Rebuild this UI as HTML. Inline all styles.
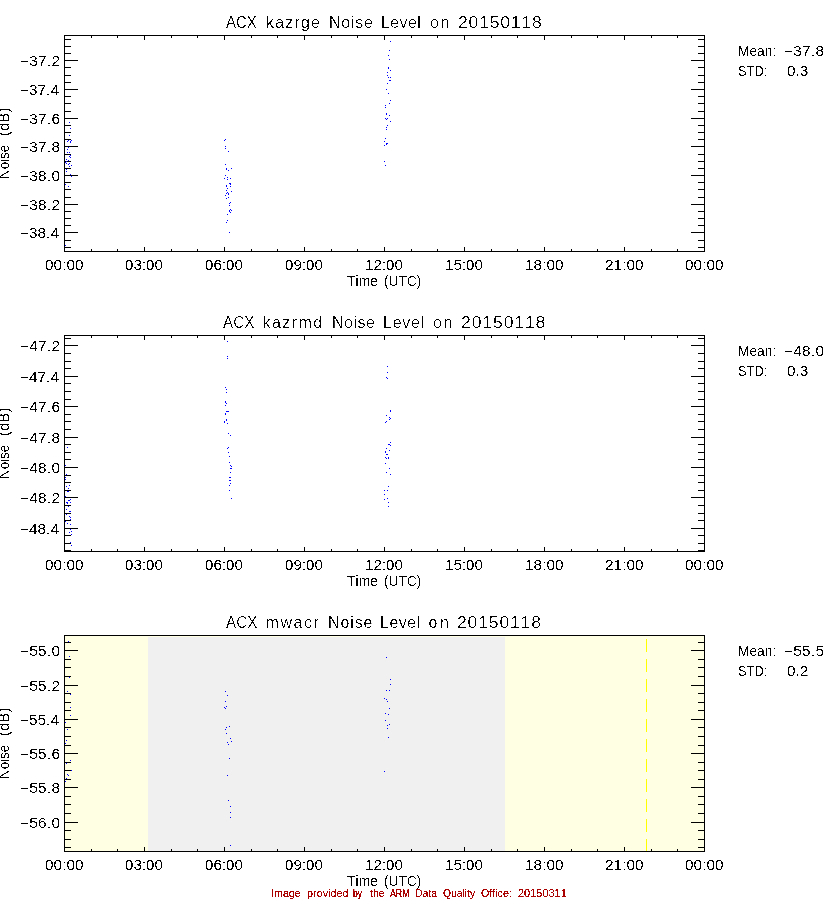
<!DOCTYPE html>
<html><head><meta charset="utf-8"><title>ACX Noise Level 20150118</title>
<style>
html,body{margin:0;padding:0;background:#fff;}
body{width:840px;height:900px;position:relative;overflow:hidden;font-family:"Liberation Sans",sans-serif;color:#000;}
svg{position:absolute;left:0;top:0;}
.g{position:absolute;left:0;top:0;width:840px;height:900px;}
.t{position:absolute;white-space:pre;line-height:1;height:0;overflow:visible;font-kerning:none;transform-origin:0 0;}
</style></head><body>
<svg width="840" height="900" viewBox="0 0 840 900" shape-rendering="crispEdges">
<defs><filter id="crisp14" x="0" y="0" width="840" height="900" filterUnits="userSpaceOnUse" color-interpolation-filters="sRGB"><feComponentTransfer><feFuncA type="linear" slope="40" intercept="-20.3"/></feComponentTransfer></filter><filter id="crisp16" x="0" y="0" width="840" height="900" filterUnits="userSpaceOnUse" color-interpolation-filters="sRGB"><feComponentTransfer><feFuncA type="linear" slope="40" intercept="-24.3"/></feComponentTransfer></filter><filter id="crisp11" x="0" y="0" width="840" height="900" filterUnits="userSpaceOnUse" color-interpolation-filters="sRGB"><feComponentTransfer><feFuncA type="linear" slope="40" intercept="-15.5"/></feComponentTransfer></filter></defs>
<rect x="64" y="35" width="641" height="1" fill="#000"/>
<rect x="64" y="251" width="641" height="1" fill="#000"/>
<rect x="64" y="35" width="1" height="217" fill="#000"/>
<rect x="704" y="35" width="1" height="217" fill="#000"/>
<rect x="64" y="247" width="1" height="4" fill="#000"/>
<rect x="64" y="36" width="1" height="4" fill="#000"/>
<rect x="91" y="249" width="1" height="2" fill="#000"/>
<rect x="91" y="36" width="1" height="2" fill="#000"/>
<rect x="117" y="249" width="1" height="2" fill="#000"/>
<rect x="117" y="36" width="1" height="2" fill="#000"/>
<rect x="144" y="247" width="1" height="4" fill="#000"/>
<rect x="144" y="36" width="1" height="4" fill="#000"/>
<rect x="171" y="249" width="1" height="2" fill="#000"/>
<rect x="171" y="36" width="1" height="2" fill="#000"/>
<rect x="197" y="249" width="1" height="2" fill="#000"/>
<rect x="197" y="36" width="1" height="2" fill="#000"/>
<rect x="224" y="247" width="1" height="4" fill="#000"/>
<rect x="224" y="36" width="1" height="4" fill="#000"/>
<rect x="251" y="249" width="1" height="2" fill="#000"/>
<rect x="251" y="36" width="1" height="2" fill="#000"/>
<rect x="277" y="249" width="1" height="2" fill="#000"/>
<rect x="277" y="36" width="1" height="2" fill="#000"/>
<rect x="304" y="247" width="1" height="4" fill="#000"/>
<rect x="304" y="36" width="1" height="4" fill="#000"/>
<rect x="331" y="249" width="1" height="2" fill="#000"/>
<rect x="331" y="36" width="1" height="2" fill="#000"/>
<rect x="357" y="249" width="1" height="2" fill="#000"/>
<rect x="357" y="36" width="1" height="2" fill="#000"/>
<rect x="384" y="247" width="1" height="4" fill="#000"/>
<rect x="384" y="36" width="1" height="4" fill="#000"/>
<rect x="411" y="249" width="1" height="2" fill="#000"/>
<rect x="411" y="36" width="1" height="2" fill="#000"/>
<rect x="437" y="249" width="1" height="2" fill="#000"/>
<rect x="437" y="36" width="1" height="2" fill="#000"/>
<rect x="464" y="247" width="1" height="4" fill="#000"/>
<rect x="464" y="36" width="1" height="4" fill="#000"/>
<rect x="491" y="249" width="1" height="2" fill="#000"/>
<rect x="491" y="36" width="1" height="2" fill="#000"/>
<rect x="517" y="249" width="1" height="2" fill="#000"/>
<rect x="517" y="36" width="1" height="2" fill="#000"/>
<rect x="544" y="247" width="1" height="4" fill="#000"/>
<rect x="544" y="36" width="1" height="4" fill="#000"/>
<rect x="571" y="249" width="1" height="2" fill="#000"/>
<rect x="571" y="36" width="1" height="2" fill="#000"/>
<rect x="597" y="249" width="1" height="2" fill="#000"/>
<rect x="597" y="36" width="1" height="2" fill="#000"/>
<rect x="624" y="247" width="1" height="4" fill="#000"/>
<rect x="624" y="36" width="1" height="4" fill="#000"/>
<rect x="651" y="249" width="1" height="2" fill="#000"/>
<rect x="651" y="36" width="1" height="2" fill="#000"/>
<rect x="677" y="249" width="1" height="2" fill="#000"/>
<rect x="677" y="36" width="1" height="2" fill="#000"/>
<rect x="704" y="247" width="1" height="4" fill="#000"/>
<rect x="704" y="36" width="1" height="4" fill="#000"/>
<rect x="65" y="39" width="6" height="1" fill="#000"/>
<rect x="698" y="39" width="6" height="1" fill="#000"/>
<rect x="65" y="46" width="6" height="1" fill="#000"/>
<rect x="698" y="46" width="6" height="1" fill="#000"/>
<rect x="65" y="53" width="6" height="1" fill="#000"/>
<rect x="698" y="53" width="6" height="1" fill="#000"/>
<rect x="65" y="60" width="13" height="1" fill="#000"/>
<rect x="691" y="60" width="13" height="1" fill="#000"/>
<rect x="65" y="67" width="6" height="1" fill="#000"/>
<rect x="698" y="67" width="6" height="1" fill="#000"/>
<rect x="65" y="75" width="6" height="1" fill="#000"/>
<rect x="698" y="75" width="6" height="1" fill="#000"/>
<rect x="65" y="82" width="6" height="1" fill="#000"/>
<rect x="698" y="82" width="6" height="1" fill="#000"/>
<rect x="65" y="89" width="13" height="1" fill="#000"/>
<rect x="691" y="89" width="13" height="1" fill="#000"/>
<rect x="65" y="96" width="6" height="1" fill="#000"/>
<rect x="698" y="96" width="6" height="1" fill="#000"/>
<rect x="65" y="103" width="6" height="1" fill="#000"/>
<rect x="698" y="103" width="6" height="1" fill="#000"/>
<rect x="65" y="111" width="6" height="1" fill="#000"/>
<rect x="698" y="111" width="6" height="1" fill="#000"/>
<rect x="65" y="118" width="13" height="1" fill="#000"/>
<rect x="691" y="118" width="13" height="1" fill="#000"/>
<rect x="65" y="125" width="6" height="1" fill="#000"/>
<rect x="698" y="125" width="6" height="1" fill="#000"/>
<rect x="65" y="132" width="6" height="1" fill="#000"/>
<rect x="698" y="132" width="6" height="1" fill="#000"/>
<rect x="65" y="139" width="6" height="1" fill="#000"/>
<rect x="698" y="139" width="6" height="1" fill="#000"/>
<rect x="65" y="146" width="13" height="1" fill="#000"/>
<rect x="691" y="146" width="13" height="1" fill="#000"/>
<rect x="65" y="154" width="6" height="1" fill="#000"/>
<rect x="698" y="154" width="6" height="1" fill="#000"/>
<rect x="65" y="161" width="6" height="1" fill="#000"/>
<rect x="698" y="161" width="6" height="1" fill="#000"/>
<rect x="65" y="168" width="6" height="1" fill="#000"/>
<rect x="698" y="168" width="6" height="1" fill="#000"/>
<rect x="65" y="175" width="13" height="1" fill="#000"/>
<rect x="691" y="175" width="13" height="1" fill="#000"/>
<rect x="65" y="182" width="6" height="1" fill="#000"/>
<rect x="698" y="182" width="6" height="1" fill="#000"/>
<rect x="65" y="189" width="6" height="1" fill="#000"/>
<rect x="698" y="189" width="6" height="1" fill="#000"/>
<rect x="65" y="197" width="6" height="1" fill="#000"/>
<rect x="698" y="197" width="6" height="1" fill="#000"/>
<rect x="65" y="204" width="13" height="1" fill="#000"/>
<rect x="691" y="204" width="13" height="1" fill="#000"/>
<rect x="65" y="211" width="6" height="1" fill="#000"/>
<rect x="698" y="211" width="6" height="1" fill="#000"/>
<rect x="65" y="218" width="6" height="1" fill="#000"/>
<rect x="698" y="218" width="6" height="1" fill="#000"/>
<rect x="65" y="225" width="6" height="1" fill="#000"/>
<rect x="698" y="225" width="6" height="1" fill="#000"/>
<rect x="65" y="232" width="13" height="1" fill="#000"/>
<rect x="691" y="232" width="13" height="1" fill="#000"/>
<rect x="65" y="240" width="6" height="1" fill="#000"/>
<rect x="698" y="240" width="6" height="1" fill="#000"/>
<rect x="65" y="247" width="6" height="1" fill="#000"/>
<rect x="698" y="247" width="6" height="1" fill="#000"/>
<rect x="64" y="335" width="641" height="1" fill="#000"/>
<rect x="64" y="551" width="641" height="1" fill="#000"/>
<rect x="64" y="335" width="1" height="217" fill="#000"/>
<rect x="704" y="335" width="1" height="217" fill="#000"/>
<rect x="64" y="547" width="1" height="4" fill="#000"/>
<rect x="64" y="336" width="1" height="4" fill="#000"/>
<rect x="91" y="549" width="1" height="2" fill="#000"/>
<rect x="91" y="336" width="1" height="2" fill="#000"/>
<rect x="117" y="549" width="1" height="2" fill="#000"/>
<rect x="117" y="336" width="1" height="2" fill="#000"/>
<rect x="144" y="547" width="1" height="4" fill="#000"/>
<rect x="144" y="336" width="1" height="4" fill="#000"/>
<rect x="171" y="549" width="1" height="2" fill="#000"/>
<rect x="171" y="336" width="1" height="2" fill="#000"/>
<rect x="197" y="549" width="1" height="2" fill="#000"/>
<rect x="197" y="336" width="1" height="2" fill="#000"/>
<rect x="224" y="547" width="1" height="4" fill="#000"/>
<rect x="224" y="336" width="1" height="4" fill="#000"/>
<rect x="251" y="549" width="1" height="2" fill="#000"/>
<rect x="251" y="336" width="1" height="2" fill="#000"/>
<rect x="277" y="549" width="1" height="2" fill="#000"/>
<rect x="277" y="336" width="1" height="2" fill="#000"/>
<rect x="304" y="547" width="1" height="4" fill="#000"/>
<rect x="304" y="336" width="1" height="4" fill="#000"/>
<rect x="331" y="549" width="1" height="2" fill="#000"/>
<rect x="331" y="336" width="1" height="2" fill="#000"/>
<rect x="357" y="549" width="1" height="2" fill="#000"/>
<rect x="357" y="336" width="1" height="2" fill="#000"/>
<rect x="384" y="547" width="1" height="4" fill="#000"/>
<rect x="384" y="336" width="1" height="4" fill="#000"/>
<rect x="411" y="549" width="1" height="2" fill="#000"/>
<rect x="411" y="336" width="1" height="2" fill="#000"/>
<rect x="437" y="549" width="1" height="2" fill="#000"/>
<rect x="437" y="336" width="1" height="2" fill="#000"/>
<rect x="464" y="547" width="1" height="4" fill="#000"/>
<rect x="464" y="336" width="1" height="4" fill="#000"/>
<rect x="491" y="549" width="1" height="2" fill="#000"/>
<rect x="491" y="336" width="1" height="2" fill="#000"/>
<rect x="517" y="549" width="1" height="2" fill="#000"/>
<rect x="517" y="336" width="1" height="2" fill="#000"/>
<rect x="544" y="547" width="1" height="4" fill="#000"/>
<rect x="544" y="336" width="1" height="4" fill="#000"/>
<rect x="571" y="549" width="1" height="2" fill="#000"/>
<rect x="571" y="336" width="1" height="2" fill="#000"/>
<rect x="597" y="549" width="1" height="2" fill="#000"/>
<rect x="597" y="336" width="1" height="2" fill="#000"/>
<rect x="624" y="547" width="1" height="4" fill="#000"/>
<rect x="624" y="336" width="1" height="4" fill="#000"/>
<rect x="651" y="549" width="1" height="2" fill="#000"/>
<rect x="651" y="336" width="1" height="2" fill="#000"/>
<rect x="677" y="549" width="1" height="2" fill="#000"/>
<rect x="677" y="336" width="1" height="2" fill="#000"/>
<rect x="704" y="547" width="1" height="4" fill="#000"/>
<rect x="704" y="336" width="1" height="4" fill="#000"/>
<rect x="65" y="338" width="6" height="1" fill="#000"/>
<rect x="698" y="338" width="6" height="1" fill="#000"/>
<rect x="65" y="345" width="13" height="1" fill="#000"/>
<rect x="691" y="345" width="13" height="1" fill="#000"/>
<rect x="65" y="353" width="6" height="1" fill="#000"/>
<rect x="698" y="353" width="6" height="1" fill="#000"/>
<rect x="65" y="361" width="6" height="1" fill="#000"/>
<rect x="698" y="361" width="6" height="1" fill="#000"/>
<rect x="65" y="368" width="6" height="1" fill="#000"/>
<rect x="698" y="368" width="6" height="1" fill="#000"/>
<rect x="65" y="376" width="13" height="1" fill="#000"/>
<rect x="691" y="376" width="13" height="1" fill="#000"/>
<rect x="65" y="383" width="6" height="1" fill="#000"/>
<rect x="698" y="383" width="6" height="1" fill="#000"/>
<rect x="65" y="391" width="6" height="1" fill="#000"/>
<rect x="698" y="391" width="6" height="1" fill="#000"/>
<rect x="65" y="399" width="6" height="1" fill="#000"/>
<rect x="698" y="399" width="6" height="1" fill="#000"/>
<rect x="65" y="406" width="13" height="1" fill="#000"/>
<rect x="691" y="406" width="13" height="1" fill="#000"/>
<rect x="65" y="414" width="6" height="1" fill="#000"/>
<rect x="698" y="414" width="6" height="1" fill="#000"/>
<rect x="65" y="421" width="6" height="1" fill="#000"/>
<rect x="698" y="421" width="6" height="1" fill="#000"/>
<rect x="65" y="429" width="6" height="1" fill="#000"/>
<rect x="698" y="429" width="6" height="1" fill="#000"/>
<rect x="65" y="437" width="13" height="1" fill="#000"/>
<rect x="691" y="437" width="13" height="1" fill="#000"/>
<rect x="65" y="444" width="6" height="1" fill="#000"/>
<rect x="698" y="444" width="6" height="1" fill="#000"/>
<rect x="65" y="452" width="6" height="1" fill="#000"/>
<rect x="698" y="452" width="6" height="1" fill="#000"/>
<rect x="65" y="459" width="6" height="1" fill="#000"/>
<rect x="698" y="459" width="6" height="1" fill="#000"/>
<rect x="65" y="467" width="13" height="1" fill="#000"/>
<rect x="691" y="467" width="13" height="1" fill="#000"/>
<rect x="65" y="475" width="6" height="1" fill="#000"/>
<rect x="698" y="475" width="6" height="1" fill="#000"/>
<rect x="65" y="482" width="6" height="1" fill="#000"/>
<rect x="698" y="482" width="6" height="1" fill="#000"/>
<rect x="65" y="490" width="6" height="1" fill="#000"/>
<rect x="698" y="490" width="6" height="1" fill="#000"/>
<rect x="65" y="497" width="13" height="1" fill="#000"/>
<rect x="691" y="497" width="13" height="1" fill="#000"/>
<rect x="65" y="505" width="6" height="1" fill="#000"/>
<rect x="698" y="505" width="6" height="1" fill="#000"/>
<rect x="65" y="513" width="6" height="1" fill="#000"/>
<rect x="698" y="513" width="6" height="1" fill="#000"/>
<rect x="65" y="520" width="6" height="1" fill="#000"/>
<rect x="698" y="520" width="6" height="1" fill="#000"/>
<rect x="65" y="528" width="13" height="1" fill="#000"/>
<rect x="691" y="528" width="13" height="1" fill="#000"/>
<rect x="65" y="535" width="6" height="1" fill="#000"/>
<rect x="698" y="535" width="6" height="1" fill="#000"/>
<rect x="65" y="543" width="6" height="1" fill="#000"/>
<rect x="698" y="543" width="6" height="1" fill="#000"/>
<rect x="65" y="550" width="6" height="1" fill="#000"/>
<rect x="698" y="550" width="6" height="1" fill="#000"/>
<rect x="65" y="636" width="639" height="215" fill="#ffffe4"/>
<rect x="148" y="637" width="357" height="214" fill="#f0f0f0"/>
<rect x="646" y="839" width="1" height="12" fill="#ffff00"/>
<rect x="646" y="819" width="1" height="13" fill="#ffff00"/>
<rect x="646" y="799" width="1" height="13" fill="#ffff00"/>
<rect x="646" y="779" width="1" height="13" fill="#ffff00"/>
<rect x="646" y="759" width="1" height="13" fill="#ffff00"/>
<rect x="646" y="739" width="1" height="13" fill="#ffff00"/>
<rect x="646" y="719" width="1" height="13" fill="#ffff00"/>
<rect x="646" y="699" width="1" height="13" fill="#ffff00"/>
<rect x="646" y="679" width="1" height="13" fill="#ffff00"/>
<rect x="646" y="659" width="1" height="13" fill="#ffff00"/>
<rect x="646" y="639" width="1" height="13" fill="#ffff00"/>
<rect x="64" y="635" width="641" height="1" fill="#000"/>
<rect x="64" y="851" width="641" height="1" fill="#000"/>
<rect x="64" y="635" width="1" height="217" fill="#000"/>
<rect x="704" y="635" width="1" height="217" fill="#000"/>
<rect x="64" y="847" width="1" height="4" fill="#000"/>
<rect x="91" y="849" width="1" height="2" fill="#000"/>
<rect x="117" y="849" width="1" height="2" fill="#000"/>
<rect x="144" y="847" width="1" height="4" fill="#000"/>
<rect x="171" y="849" width="1" height="2" fill="#000"/>
<rect x="197" y="849" width="1" height="2" fill="#000"/>
<rect x="224" y="847" width="1" height="4" fill="#000"/>
<rect x="251" y="849" width="1" height="2" fill="#000"/>
<rect x="277" y="849" width="1" height="2" fill="#000"/>
<rect x="304" y="847" width="1" height="4" fill="#000"/>
<rect x="331" y="849" width="1" height="2" fill="#000"/>
<rect x="357" y="849" width="1" height="2" fill="#000"/>
<rect x="384" y="847" width="1" height="4" fill="#000"/>
<rect x="411" y="849" width="1" height="2" fill="#000"/>
<rect x="437" y="849" width="1" height="2" fill="#000"/>
<rect x="464" y="847" width="1" height="4" fill="#000"/>
<rect x="491" y="849" width="1" height="2" fill="#000"/>
<rect x="517" y="849" width="1" height="2" fill="#000"/>
<rect x="544" y="847" width="1" height="4" fill="#000"/>
<rect x="571" y="849" width="1" height="2" fill="#000"/>
<rect x="597" y="849" width="1" height="2" fill="#000"/>
<rect x="624" y="847" width="1" height="4" fill="#000"/>
<rect x="651" y="849" width="1" height="2" fill="#000"/>
<rect x="677" y="849" width="1" height="2" fill="#000"/>
<rect x="704" y="847" width="1" height="4" fill="#000"/>
<rect x="65" y="642" width="6" height="1" fill="#000"/>
<rect x="698" y="642" width="6" height="1" fill="#000"/>
<rect x="65" y="650" width="13" height="1" fill="#000"/>
<rect x="691" y="650" width="13" height="1" fill="#000"/>
<rect x="65" y="659" width="6" height="1" fill="#000"/>
<rect x="698" y="659" width="6" height="1" fill="#000"/>
<rect x="65" y="667" width="6" height="1" fill="#000"/>
<rect x="698" y="667" width="6" height="1" fill="#000"/>
<rect x="65" y="676" width="6" height="1" fill="#000"/>
<rect x="698" y="676" width="6" height="1" fill="#000"/>
<rect x="65" y="685" width="13" height="1" fill="#000"/>
<rect x="691" y="685" width="13" height="1" fill="#000"/>
<rect x="65" y="693" width="6" height="1" fill="#000"/>
<rect x="698" y="693" width="6" height="1" fill="#000"/>
<rect x="65" y="702" width="6" height="1" fill="#000"/>
<rect x="698" y="702" width="6" height="1" fill="#000"/>
<rect x="65" y="710" width="6" height="1" fill="#000"/>
<rect x="698" y="710" width="6" height="1" fill="#000"/>
<rect x="65" y="719" width="13" height="1" fill="#000"/>
<rect x="691" y="719" width="13" height="1" fill="#000"/>
<rect x="65" y="727" width="6" height="1" fill="#000"/>
<rect x="698" y="727" width="6" height="1" fill="#000"/>
<rect x="65" y="736" width="6" height="1" fill="#000"/>
<rect x="698" y="736" width="6" height="1" fill="#000"/>
<rect x="65" y="745" width="6" height="1" fill="#000"/>
<rect x="698" y="745" width="6" height="1" fill="#000"/>
<rect x="65" y="753" width="13" height="1" fill="#000"/>
<rect x="691" y="753" width="13" height="1" fill="#000"/>
<rect x="65" y="762" width="6" height="1" fill="#000"/>
<rect x="698" y="762" width="6" height="1" fill="#000"/>
<rect x="65" y="770" width="6" height="1" fill="#000"/>
<rect x="698" y="770" width="6" height="1" fill="#000"/>
<rect x="65" y="779" width="6" height="1" fill="#000"/>
<rect x="698" y="779" width="6" height="1" fill="#000"/>
<rect x="65" y="787" width="13" height="1" fill="#000"/>
<rect x="691" y="787" width="13" height="1" fill="#000"/>
<rect x="65" y="796" width="6" height="1" fill="#000"/>
<rect x="698" y="796" width="6" height="1" fill="#000"/>
<rect x="65" y="804" width="6" height="1" fill="#000"/>
<rect x="698" y="804" width="6" height="1" fill="#000"/>
<rect x="65" y="813" width="6" height="1" fill="#000"/>
<rect x="698" y="813" width="6" height="1" fill="#000"/>
<rect x="65" y="822" width="13" height="1" fill="#000"/>
<rect x="691" y="822" width="13" height="1" fill="#000"/>
<rect x="65" y="830" width="6" height="1" fill="#000"/>
<rect x="698" y="830" width="6" height="1" fill="#000"/>
<rect x="65" y="839" width="6" height="1" fill="#000"/>
<rect x="698" y="839" width="6" height="1" fill="#000"/>
<rect x="65" y="847" width="6" height="1" fill="#000"/>
<rect x="698" y="847" width="6" height="1" fill="#000"/>
<rect x="69" y="122" width="1" height="1" fill="#0000ff"/>
<rect x="70" y="128" width="1" height="1" fill="#0000ff"/>
<rect x="69" y="135" width="1" height="1" fill="#0000ff"/>
<rect x="71" y="140" width="1" height="1" fill="#0000ff"/>
<rect x="68" y="140" width="1" height="1" fill="#0000ff"/>
<rect x="67" y="141" width="1" height="1" fill="#0000ff"/>
<rect x="70" y="141" width="1" height="1" fill="#0000ff"/>
<rect x="70" y="142" width="1" height="1" fill="#0000ff"/>
<rect x="68" y="147" width="1" height="1" fill="#0000ff"/>
<rect x="67" y="149" width="1" height="1" fill="#0000ff"/>
<rect x="67" y="152" width="1" height="1" fill="#0000ff"/>
<rect x="69" y="152" width="1" height="1" fill="#0000ff"/>
<rect x="70" y="155" width="1" height="1" fill="#0000ff"/>
<rect x="69" y="156" width="1" height="1" fill="#0000ff"/>
<rect x="70" y="157" width="1" height="1" fill="#0000ff"/>
<rect x="66" y="159" width="1" height="1" fill="#0000ff"/>
<rect x="68" y="160" width="1" height="1" fill="#0000ff"/>
<rect x="66" y="161" width="1" height="1" fill="#0000ff"/>
<rect x="65" y="162" width="1" height="1" fill="#0000ff"/>
<rect x="66" y="163" width="1" height="1" fill="#0000ff"/>
<rect x="69" y="163" width="1" height="1" fill="#0000ff"/>
<rect x="68" y="164" width="1" height="1" fill="#0000ff"/>
<rect x="71" y="165" width="1" height="1" fill="#0000ff"/>
<rect x="69" y="166" width="1" height="1" fill="#0000ff"/>
<rect x="66" y="169" width="1" height="1" fill="#0000ff"/>
<rect x="66" y="171" width="1" height="1" fill="#0000ff"/>
<rect x="70" y="174" width="1" height="1" fill="#0000ff"/>
<rect x="71" y="176" width="1" height="1" fill="#0000ff"/>
<rect x="65" y="184" width="1" height="1" fill="#0000ff"/>
<rect x="68" y="186" width="1" height="1" fill="#0000ff"/>
<rect x="65" y="245" width="1" height="1" fill="#0000ff"/>
<rect x="225" y="139" width="1" height="1" fill="#0000ff"/>
<rect x="224" y="140" width="1" height="1" fill="#0000ff"/>
<rect x="225" y="146" width="1" height="1" fill="#0000ff"/>
<rect x="225" y="148" width="1" height="1" fill="#0000ff"/>
<rect x="228" y="151" width="1" height="1" fill="#0000ff"/>
<rect x="225" y="164" width="1" height="1" fill="#0000ff"/>
<rect x="226" y="168" width="1" height="1" fill="#0000ff"/>
<rect x="226" y="169" width="1" height="1" fill="#0000ff"/>
<rect x="231" y="168" width="1" height="1" fill="#0000ff"/>
<rect x="228" y="170" width="1" height="1" fill="#0000ff"/>
<rect x="225" y="175" width="1" height="1" fill="#0000ff"/>
<rect x="227" y="177" width="1" height="1" fill="#0000ff"/>
<rect x="224" y="178" width="1" height="1" fill="#0000ff"/>
<rect x="230" y="178" width="1" height="1" fill="#0000ff"/>
<rect x="227" y="179" width="1" height="1" fill="#0000ff"/>
<rect x="229" y="183" width="1" height="1" fill="#0000ff"/>
<rect x="230" y="183" width="1" height="1" fill="#0000ff"/>
<rect x="230" y="184" width="1" height="1" fill="#0000ff"/>
<rect x="226" y="185" width="1" height="1" fill="#0000ff"/>
<rect x="226" y="186" width="1" height="1" fill="#0000ff"/>
<rect x="230" y="186" width="1" height="1" fill="#0000ff"/>
<rect x="227" y="188" width="1" height="1" fill="#0000ff"/>
<rect x="226" y="190" width="1" height="1" fill="#0000ff"/>
<rect x="231" y="191" width="1" height="1" fill="#0000ff"/>
<rect x="227" y="192" width="1" height="1" fill="#0000ff"/>
<rect x="226" y="193" width="1" height="1" fill="#0000ff"/>
<rect x="228" y="193" width="1" height="1" fill="#0000ff"/>
<rect x="228" y="194" width="1" height="1" fill="#0000ff"/>
<rect x="225" y="195" width="1" height="1" fill="#0000ff"/>
<rect x="228" y="197" width="1" height="1" fill="#0000ff"/>
<rect x="226" y="198" width="1" height="1" fill="#0000ff"/>
<rect x="230" y="202" width="1" height="1" fill="#0000ff"/>
<rect x="229" y="203" width="1" height="1" fill="#0000ff"/>
<rect x="229" y="205" width="1" height="1" fill="#0000ff"/>
<rect x="230" y="209" width="1" height="1" fill="#0000ff"/>
<rect x="229" y="210" width="1" height="1" fill="#0000ff"/>
<rect x="231" y="210" width="1" height="1" fill="#0000ff"/>
<rect x="229" y="211" width="1" height="1" fill="#0000ff"/>
<rect x="230" y="212" width="1" height="1" fill="#0000ff"/>
<rect x="227" y="214" width="1" height="1" fill="#0000ff"/>
<rect x="227" y="220" width="1" height="1" fill="#0000ff"/>
<rect x="226" y="222" width="1" height="1" fill="#0000ff"/>
<rect x="229" y="232" width="1" height="1" fill="#0000ff"/>
<rect x="390" y="41" width="1" height="1" fill="#0000ff"/>
<rect x="389" y="50" width="1" height="1" fill="#0000ff"/>
<rect x="388" y="55" width="1" height="1" fill="#0000ff"/>
<rect x="389" y="59" width="1" height="1" fill="#0000ff"/>
<rect x="388" y="67" width="1" height="1" fill="#0000ff"/>
<rect x="388" y="68" width="1" height="1" fill="#0000ff"/>
<rect x="390" y="70" width="1" height="1" fill="#0000ff"/>
<rect x="387" y="72" width="1" height="1" fill="#0000ff"/>
<rect x="387" y="75" width="1" height="1" fill="#0000ff"/>
<rect x="388" y="77" width="1" height="1" fill="#0000ff"/>
<rect x="390" y="77" width="1" height="1" fill="#0000ff"/>
<rect x="389" y="80" width="1" height="1" fill="#0000ff"/>
<rect x="390" y="80" width="1" height="1" fill="#0000ff"/>
<rect x="387" y="83" width="1" height="1" fill="#0000ff"/>
<rect x="386" y="89" width="1" height="1" fill="#0000ff"/>
<rect x="388" y="93" width="1" height="1" fill="#0000ff"/>
<rect x="390" y="100" width="1" height="1" fill="#0000ff"/>
<rect x="389" y="103" width="1" height="1" fill="#0000ff"/>
<rect x="385" y="105" width="1" height="1" fill="#0000ff"/>
<rect x="385" y="107" width="1" height="1" fill="#0000ff"/>
<rect x="386" y="113" width="1" height="1" fill="#0000ff"/>
<rect x="386" y="114" width="1" height="1" fill="#0000ff"/>
<rect x="389" y="115" width="1" height="1" fill="#0000ff"/>
<rect x="385" y="118" width="1" height="1" fill="#0000ff"/>
<rect x="387" y="118" width="1" height="1" fill="#0000ff"/>
<rect x="386" y="119" width="1" height="1" fill="#0000ff"/>
<rect x="390" y="121" width="1" height="1" fill="#0000ff"/>
<rect x="387" y="125" width="1" height="1" fill="#0000ff"/>
<rect x="386" y="127" width="1" height="1" fill="#0000ff"/>
<rect x="386" y="129" width="1" height="1" fill="#0000ff"/>
<rect x="385" y="138" width="1" height="1" fill="#0000ff"/>
<rect x="384" y="141" width="1" height="1" fill="#0000ff"/>
<rect x="386" y="143" width="1" height="1" fill="#0000ff"/>
<rect x="387" y="143" width="1" height="1" fill="#0000ff"/>
<rect x="386" y="144" width="1" height="1" fill="#0000ff"/>
<rect x="384" y="145" width="1" height="1" fill="#0000ff"/>
<rect x="384" y="161" width="1" height="1" fill="#0000ff"/>
<rect x="385" y="165" width="1" height="1" fill="#0000ff"/>
<rect x="67" y="447" width="1" height="1" fill="#0000ff"/>
<rect x="65" y="465" width="1" height="1" fill="#0000ff"/>
<rect x="66" y="474" width="1" height="1" fill="#0000ff"/>
<rect x="65" y="477" width="1" height="1" fill="#0000ff"/>
<rect x="65" y="479" width="1" height="1" fill="#0000ff"/>
<rect x="69" y="485" width="1" height="1" fill="#0000ff"/>
<rect x="66" y="486" width="1" height="1" fill="#0000ff"/>
<rect x="68" y="488" width="1" height="1" fill="#0000ff"/>
<rect x="67" y="491" width="1" height="1" fill="#0000ff"/>
<rect x="68" y="491" width="1" height="1" fill="#0000ff"/>
<rect x="65" y="496" width="1" height="1" fill="#0000ff"/>
<rect x="70" y="499" width="1" height="1" fill="#0000ff"/>
<rect x="68" y="500" width="1" height="1" fill="#0000ff"/>
<rect x="69" y="500" width="1" height="1" fill="#0000ff"/>
<rect x="66" y="502" width="1" height="1" fill="#0000ff"/>
<rect x="67" y="502" width="1" height="1" fill="#0000ff"/>
<rect x="70" y="502" width="1" height="1" fill="#0000ff"/>
<rect x="67" y="503" width="1" height="1" fill="#0000ff"/>
<rect x="68" y="506" width="1" height="1" fill="#0000ff"/>
<rect x="66" y="509" width="1" height="1" fill="#0000ff"/>
<rect x="69" y="511" width="1" height="1" fill="#0000ff"/>
<rect x="70" y="511" width="1" height="1" fill="#0000ff"/>
<rect x="66" y="514" width="1" height="1" fill="#0000ff"/>
<rect x="69" y="516" width="1" height="1" fill="#0000ff"/>
<rect x="70" y="517" width="1" height="1" fill="#0000ff"/>
<rect x="70" y="519" width="1" height="1" fill="#0000ff"/>
<rect x="65" y="521" width="1" height="1" fill="#0000ff"/>
<rect x="67" y="523" width="1" height="1" fill="#0000ff"/>
<rect x="70" y="524" width="1" height="1" fill="#0000ff"/>
<rect x="70" y="529" width="1" height="1" fill="#0000ff"/>
<rect x="71" y="531" width="1" height="1" fill="#0000ff"/>
<rect x="69" y="532" width="1" height="1" fill="#0000ff"/>
<rect x="71" y="534" width="1" height="1" fill="#0000ff"/>
<rect x="70" y="542" width="1" height="1" fill="#0000ff"/>
<rect x="71" y="545" width="1" height="1" fill="#0000ff"/>
<rect x="227" y="341" width="1" height="1" fill="#0000ff"/>
<rect x="227" y="356" width="1" height="1" fill="#0000ff"/>
<rect x="227" y="358" width="1" height="1" fill="#0000ff"/>
<rect x="225" y="387" width="1" height="1" fill="#0000ff"/>
<rect x="226" y="389" width="1" height="1" fill="#0000ff"/>
<rect x="226" y="392" width="1" height="1" fill="#0000ff"/>
<rect x="225" y="401" width="1" height="1" fill="#0000ff"/>
<rect x="225" y="402" width="1" height="1" fill="#0000ff"/>
<rect x="226" y="403" width="1" height="1" fill="#0000ff"/>
<rect x="225" y="405" width="1" height="1" fill="#0000ff"/>
<rect x="226" y="411" width="1" height="1" fill="#0000ff"/>
<rect x="227" y="411" width="1" height="1" fill="#0000ff"/>
<rect x="228" y="411" width="1" height="1" fill="#0000ff"/>
<rect x="225" y="413" width="1" height="1" fill="#0000ff"/>
<rect x="225" y="414" width="1" height="1" fill="#0000ff"/>
<rect x="226" y="419" width="1" height="1" fill="#0000ff"/>
<rect x="226" y="420" width="1" height="1" fill="#0000ff"/>
<rect x="224" y="421" width="1" height="1" fill="#0000ff"/>
<rect x="224" y="422" width="1" height="1" fill="#0000ff"/>
<rect x="227" y="423" width="1" height="1" fill="#0000ff"/>
<rect x="228" y="433" width="1" height="1" fill="#0000ff"/>
<rect x="230" y="435" width="1" height="1" fill="#0000ff"/>
<rect x="228" y="447" width="1" height="1" fill="#0000ff"/>
<rect x="227" y="448" width="1" height="1" fill="#0000ff"/>
<rect x="228" y="452" width="1" height="1" fill="#0000ff"/>
<rect x="229" y="456" width="1" height="1" fill="#0000ff"/>
<rect x="229" y="462" width="1" height="1" fill="#0000ff"/>
<rect x="230" y="465" width="1" height="1" fill="#0000ff"/>
<rect x="231" y="466" width="1" height="1" fill="#0000ff"/>
<rect x="230" y="468" width="1" height="1" fill="#0000ff"/>
<rect x="231" y="468" width="1" height="1" fill="#0000ff"/>
<rect x="230" y="472" width="1" height="1" fill="#0000ff"/>
<rect x="229" y="477" width="1" height="1" fill="#0000ff"/>
<rect x="230" y="477" width="1" height="1" fill="#0000ff"/>
<rect x="229" y="480" width="1" height="1" fill="#0000ff"/>
<rect x="230" y="480" width="1" height="1" fill="#0000ff"/>
<rect x="230" y="483" width="1" height="1" fill="#0000ff"/>
<rect x="229" y="485" width="1" height="1" fill="#0000ff"/>
<rect x="229" y="490" width="1" height="1" fill="#0000ff"/>
<rect x="231" y="498" width="1" height="1" fill="#0000ff"/>
<rect x="387" y="366" width="1" height="1" fill="#0000ff"/>
<rect x="387" y="372" width="1" height="1" fill="#0000ff"/>
<rect x="386" y="377" width="1" height="1" fill="#0000ff"/>
<rect x="387" y="378" width="1" height="1" fill="#0000ff"/>
<rect x="390" y="410" width="1" height="1" fill="#0000ff"/>
<rect x="390" y="411" width="1" height="1" fill="#0000ff"/>
<rect x="386" y="415" width="1" height="1" fill="#0000ff"/>
<rect x="389" y="417" width="1" height="1" fill="#0000ff"/>
<rect x="390" y="418" width="1" height="1" fill="#0000ff"/>
<rect x="389" y="419" width="1" height="1" fill="#0000ff"/>
<rect x="386" y="421" width="1" height="1" fill="#0000ff"/>
<rect x="385" y="422" width="1" height="1" fill="#0000ff"/>
<rect x="390" y="442" width="1" height="1" fill="#0000ff"/>
<rect x="388" y="444" width="1" height="1" fill="#0000ff"/>
<rect x="389" y="444" width="1" height="1" fill="#0000ff"/>
<rect x="390" y="445" width="1" height="1" fill="#0000ff"/>
<rect x="386" y="448" width="1" height="1" fill="#0000ff"/>
<rect x="389" y="450" width="1" height="1" fill="#0000ff"/>
<rect x="385" y="451" width="1" height="1" fill="#0000ff"/>
<rect x="385" y="452" width="1" height="1" fill="#0000ff"/>
<rect x="386" y="454" width="1" height="1" fill="#0000ff"/>
<rect x="387" y="454" width="1" height="1" fill="#0000ff"/>
<rect x="385" y="457" width="1" height="1" fill="#0000ff"/>
<rect x="386" y="458" width="1" height="1" fill="#0000ff"/>
<rect x="388" y="457" width="1" height="1" fill="#0000ff"/>
<rect x="388" y="458" width="1" height="1" fill="#0000ff"/>
<rect x="385" y="463" width="1" height="1" fill="#0000ff"/>
<rect x="389" y="468" width="1" height="1" fill="#0000ff"/>
<rect x="386" y="472" width="1" height="1" fill="#0000ff"/>
<rect x="390" y="474" width="1" height="1" fill="#0000ff"/>
<rect x="388" y="486" width="1" height="1" fill="#0000ff"/>
<rect x="384" y="490" width="1" height="1" fill="#0000ff"/>
<rect x="387" y="490" width="1" height="1" fill="#0000ff"/>
<rect x="384" y="494" width="1" height="1" fill="#0000ff"/>
<rect x="387" y="498" width="1" height="1" fill="#0000ff"/>
<rect x="384" y="499" width="1" height="1" fill="#0000ff"/>
<rect x="388" y="502" width="1" height="1" fill="#0000ff"/>
<rect x="388" y="506" width="1" height="1" fill="#0000ff"/>
<rect x="68" y="641" width="1" height="1" fill="#0000ff"/>
<rect x="69" y="656" width="1" height="1" fill="#0000ff"/>
<rect x="69" y="677" width="1" height="1" fill="#0000ff"/>
<rect x="67" y="691" width="1" height="1" fill="#0000ff"/>
<rect x="70" y="694" width="1" height="1" fill="#0000ff"/>
<rect x="70" y="707" width="1" height="1" fill="#0000ff"/>
<rect x="70" y="715" width="1" height="1" fill="#0000ff"/>
<rect x="65" y="722" width="1" height="1" fill="#0000ff"/>
<rect x="67" y="729" width="1" height="1" fill="#0000ff"/>
<rect x="66" y="740" width="1" height="1" fill="#0000ff"/>
<rect x="65" y="743" width="1" height="1" fill="#0000ff"/>
<rect x="70" y="760" width="1" height="1" fill="#0000ff"/>
<rect x="66" y="763" width="1" height="1" fill="#0000ff"/>
<rect x="71" y="770" width="1" height="1" fill="#0000ff"/>
<rect x="67" y="774" width="1" height="1" fill="#0000ff"/>
<rect x="68" y="775" width="1" height="1" fill="#0000ff"/>
<rect x="66" y="778" width="1" height="1" fill="#0000ff"/>
<rect x="65" y="781" width="1" height="1" fill="#0000ff"/>
<rect x="225" y="691" width="1" height="1" fill="#0000ff"/>
<rect x="227" y="695" width="1" height="1" fill="#0000ff"/>
<rect x="225" y="701" width="1" height="1" fill="#0000ff"/>
<rect x="226" y="706" width="1" height="1" fill="#0000ff"/>
<rect x="224" y="707" width="1" height="1" fill="#0000ff"/>
<rect x="225" y="708" width="1" height="1" fill="#0000ff"/>
<rect x="229" y="726" width="1" height="1" fill="#0000ff"/>
<rect x="226" y="727" width="1" height="1" fill="#0000ff"/>
<rect x="225" y="729" width="1" height="1" fill="#0000ff"/>
<rect x="226" y="733" width="1" height="1" fill="#0000ff"/>
<rect x="230" y="738" width="1" height="1" fill="#0000ff"/>
<rect x="231" y="741" width="1" height="1" fill="#0000ff"/>
<rect x="227" y="742" width="1" height="1" fill="#0000ff"/>
<rect x="228" y="744" width="1" height="1" fill="#0000ff"/>
<rect x="229" y="758" width="1" height="1" fill="#0000ff"/>
<rect x="227" y="775" width="1" height="1" fill="#0000ff"/>
<rect x="228" y="800" width="1" height="1" fill="#0000ff"/>
<rect x="230" y="806" width="1" height="1" fill="#0000ff"/>
<rect x="230" y="812" width="1" height="1" fill="#0000ff"/>
<rect x="230" y="817" width="1" height="1" fill="#0000ff"/>
<rect x="230" y="845" width="1" height="1" fill="#0000ff"/>
<rect x="386" y="657" width="1" height="1" fill="#0000ff"/>
<rect x="390" y="679" width="1" height="1" fill="#0000ff"/>
<rect x="390" y="684" width="1" height="1" fill="#0000ff"/>
<rect x="386" y="690" width="1" height="1" fill="#0000ff"/>
<rect x="389" y="690" width="1" height="1" fill="#0000ff"/>
<rect x="384" y="698" width="1" height="1" fill="#0000ff"/>
<rect x="386" y="699" width="1" height="1" fill="#0000ff"/>
<rect x="387" y="701" width="1" height="1" fill="#0000ff"/>
<rect x="389" y="708" width="1" height="1" fill="#0000ff"/>
<rect x="385" y="713" width="1" height="1" fill="#0000ff"/>
<rect x="388" y="714" width="1" height="1" fill="#0000ff"/>
<rect x="385" y="720" width="1" height="1" fill="#0000ff"/>
<rect x="389" y="724" width="1" height="1" fill="#0000ff"/>
<rect x="387" y="725" width="1" height="1" fill="#0000ff"/>
<rect x="387" y="728" width="1" height="1" fill="#0000ff"/>
<rect x="388" y="737" width="1" height="1" fill="#0000ff"/>
<rect x="384" y="771" width="1" height="1" fill="#0000ff"/>
</svg>
<div class="g" style="filter:url(#crisp14);">
<div class="t" id="yl0_0" style="font-size:14px;letter-spacing:0.25px;left:20.00px;top:66px;transform:translate(0,-11.85px) scaleX(1.100);">−37.2</div>
<div class="t" id="yl0_1" style="font-size:14px;left:20.00px;top:95px;transform:translate(0,-11.85px) scaleX(1.100);">−37.4</div>
<div class="t" id="yl0_2" style="font-size:14px;letter-spacing:0.25px;left:20.00px;top:124px;transform:translate(0,-11.85px) scaleX(1.100);">−37.6</div>
<div class="t" id="yl0_3" style="font-size:14px;letter-spacing:0.25px;left:20.00px;top:152px;transform:translate(0,-11.85px) scaleX(1.100);">−37.8</div>
<div class="t" id="yl0_4" style="font-size:14px;letter-spacing:0.25px;left:20.00px;top:181px;transform:translate(0,-11.85px) scaleX(1.100);">−38.0</div>
<div class="t" id="yl0_5" style="font-size:14px;letter-spacing:0.25px;left:20.00px;top:210px;transform:translate(0,-11.85px) scaleX(1.100);">−38.2</div>
<div class="t" id="yl0_6" style="font-size:14px;left:20.00px;top:238px;transform:translate(0,-11.85px) scaleX(1.100);">−38.4</div>
<div class="t" id="xl0_0" style="font-size:14px;left:44.80px;top:270px;transform:translate(0,-11.85px) scaleX(1.100);">00:00</div>
<div class="t" id="xl0_3" style="font-size:14px;left:124.80px;top:270px;transform:translate(0,-11.85px) scaleX(1.082);">03:00</div>
<div class="t" id="xl0_6" style="font-size:14px;left:204.80px;top:270px;transform:translate(0,-11.85px) scaleX(1.082);">06:00</div>
<div class="t" id="xl0_9" style="font-size:14px;left:284.80px;top:270px;transform:translate(0,-11.85px) scaleX(1.082);">09:00</div>
<div class="t" id="xl0_12" style="font-size:14px;left:364.80px;top:270px;transform:translate(0,-11.85px) scaleX(1.082);">12:00</div>
<div class="t" id="xl0_15" style="font-size:14px;left:444.80px;top:270px;transform:translate(0,-11.85px) scaleX(1.082);">15:00</div>
<div class="t" id="xl0_18" style="font-size:14px;left:524.80px;top:270px;transform:translate(0,-11.85px) scaleX(1.100);">18:00</div>
<div class="t" id="xl0_21" style="font-size:14px;left:604.80px;top:270px;transform:translate(0,-11.85px) scaleX(1.100);">21:00</div>
<div class="t" id="xl0_24" style="font-size:14px;left:684.80px;top:270px;transform:translate(0,-11.85px) scaleX(1.100);">00:00</div>
<div class="t" id="xta0" style="font-size:14px;left:347.00px;top:286px;transform:translate(0,-11.85px);">Time</div>
<div class="t" id="xtb0" style="font-size:14px;left:384.00px;top:286px;transform:translate(0,-11.85px) scaleX(0.978);">(UTC)</div>
<div class="t" id="mean0" style="font-size:14px;left:738.20px;top:56px;transform:translate(0,-11.85px) scaleX(0.981);">Mean:</div>
<div class="t" id="meanv0" style="font-size:14px;letter-spacing:0.25px;left:784.00px;top:56px;transform:translate(0,-11.85px) scaleX(1.100);">−37.8</div>
<div class="t" id="std0" style="font-size:14px;left:738.20px;top:76px;transform:translate(0,-11.85px) scaleX(0.921);">STD:</div>
<div class="t" id="stdv0" style="font-size:14px;left:787.00px;top:76px;transform:translate(0,-11.85px) scaleX(1.100);">0.3</div>
<div class="t" id="yta0" style="font-size:14px;left:8.6px;top:179.00px;transform:rotate(-90deg) translate(0,-11.85px) scaleX(0.956);">Noise</div>
<div class="t" id="ytb0" style="font-size:14px;letter-spacing:0.67px;left:8.6px;top:136.00px;transform:rotate(-90deg) translate(0,-11.85px);">(dB)</div>
<div class="t" id="yl1_0" style="font-size:14px;letter-spacing:0.25px;left:20.00px;top:351px;transform:translate(0,-11.85px) scaleX(1.100);">−47.2</div>
<div class="t" id="yl1_1" style="font-size:14px;left:20.00px;top:382px;transform:translate(0,-11.85px) scaleX(1.100);">−47.4</div>
<div class="t" id="yl1_2" style="font-size:14px;letter-spacing:0.25px;left:20.00px;top:412px;transform:translate(0,-11.85px) scaleX(1.100);">−47.6</div>
<div class="t" id="yl1_3" style="font-size:14px;letter-spacing:0.25px;left:20.00px;top:443px;transform:translate(0,-11.85px) scaleX(1.100);">−47.8</div>
<div class="t" id="yl1_4" style="font-size:14px;letter-spacing:0.25px;left:20.00px;top:473px;transform:translate(0,-11.85px) scaleX(1.100);">−48.0</div>
<div class="t" id="yl1_5" style="font-size:14px;letter-spacing:0.25px;left:20.00px;top:503px;transform:translate(0,-11.85px) scaleX(1.100);">−48.2</div>
<div class="t" id="yl1_6" style="font-size:14px;left:20.00px;top:534px;transform:translate(0,-11.85px) scaleX(1.100);">−48.4</div>
<div class="t" id="xl1_0" style="font-size:14px;left:44.80px;top:570px;transform:translate(0,-11.85px) scaleX(1.100);">00:00</div>
<div class="t" id="xl1_3" style="font-size:14px;left:124.80px;top:570px;transform:translate(0,-11.85px) scaleX(1.082);">03:00</div>
<div class="t" id="xl1_6" style="font-size:14px;left:204.80px;top:570px;transform:translate(0,-11.85px) scaleX(1.082);">06:00</div>
<div class="t" id="xl1_9" style="font-size:14px;left:284.80px;top:570px;transform:translate(0,-11.85px) scaleX(1.082);">09:00</div>
<div class="t" id="xl1_12" style="font-size:14px;left:364.80px;top:570px;transform:translate(0,-11.85px) scaleX(1.082);">12:00</div>
<div class="t" id="xl1_15" style="font-size:14px;left:444.80px;top:570px;transform:translate(0,-11.85px) scaleX(1.082);">15:00</div>
<div class="t" id="xl1_18" style="font-size:14px;left:524.80px;top:570px;transform:translate(0,-11.85px) scaleX(1.100);">18:00</div>
<div class="t" id="xl1_21" style="font-size:14px;left:604.80px;top:570px;transform:translate(0,-11.85px) scaleX(1.100);">21:00</div>
<div class="t" id="xl1_24" style="font-size:14px;left:684.80px;top:570px;transform:translate(0,-11.85px) scaleX(1.100);">00:00</div>
<div class="t" id="xta1" style="font-size:14px;left:347.00px;top:586px;transform:translate(0,-11.85px);">Time</div>
<div class="t" id="xtb1" style="font-size:14px;left:384.00px;top:586px;transform:translate(0,-11.85px) scaleX(0.978);">(UTC)</div>
<div class="t" id="mean1" style="font-size:14px;left:738.20px;top:356px;transform:translate(0,-11.85px) scaleX(0.981);">Mean:</div>
<div class="t" id="meanv1" style="font-size:14px;letter-spacing:0.25px;left:784.00px;top:356px;transform:translate(0,-11.85px) scaleX(1.100);">−48.0</div>
<div class="t" id="std1" style="font-size:14px;left:738.20px;top:376px;transform:translate(0,-11.85px) scaleX(0.921);">STD:</div>
<div class="t" id="stdv1" style="font-size:14px;left:787.00px;top:376px;transform:translate(0,-11.85px) scaleX(1.100);">0.3</div>
<div class="t" id="yta1" style="font-size:14px;left:8.6px;top:479.00px;transform:rotate(-90deg) translate(0,-11.85px) scaleX(0.956);">Noise</div>
<div class="t" id="ytb1" style="font-size:14px;letter-spacing:0.67px;left:8.6px;top:436.00px;transform:rotate(-90deg) translate(0,-11.85px);">(dB)</div>
<div class="t" id="yl2_0" style="font-size:14px;letter-spacing:0.25px;left:20.00px;top:656px;transform:translate(0,-11.85px) scaleX(1.100);">−55.0</div>
<div class="t" id="yl2_1" style="font-size:14px;letter-spacing:0.25px;left:20.00px;top:691px;transform:translate(0,-11.85px) scaleX(1.100);">−55.2</div>
<div class="t" id="yl2_2" style="font-size:14px;left:20.00px;top:725px;transform:translate(0,-11.85px) scaleX(1.100);">−55.4</div>
<div class="t" id="yl2_3" style="font-size:14px;letter-spacing:0.25px;left:20.00px;top:759px;transform:translate(0,-11.85px) scaleX(1.100);">−55.6</div>
<div class="t" id="yl2_4" style="font-size:14px;letter-spacing:0.25px;left:20.00px;top:793px;transform:translate(0,-11.85px) scaleX(1.100);">−55.8</div>
<div class="t" id="yl2_5" style="font-size:14px;letter-spacing:0.25px;left:20.00px;top:828px;transform:translate(0,-11.85px) scaleX(1.100);">−56.0</div>
<div class="t" id="xl2_0" style="font-size:14px;left:44.80px;top:870px;transform:translate(0,-11.85px) scaleX(1.100);">00:00</div>
<div class="t" id="xl2_3" style="font-size:14px;left:124.80px;top:870px;transform:translate(0,-11.85px) scaleX(1.082);">03:00</div>
<div class="t" id="xl2_6" style="font-size:14px;left:204.80px;top:870px;transform:translate(0,-11.85px) scaleX(1.082);">06:00</div>
<div class="t" id="xl2_9" style="font-size:14px;left:284.80px;top:870px;transform:translate(0,-11.85px) scaleX(1.082);">09:00</div>
<div class="t" id="xl2_12" style="font-size:14px;left:364.80px;top:870px;transform:translate(0,-11.85px) scaleX(1.082);">12:00</div>
<div class="t" id="xl2_15" style="font-size:14px;left:444.80px;top:870px;transform:translate(0,-11.85px) scaleX(1.082);">15:00</div>
<div class="t" id="xl2_18" style="font-size:14px;left:524.80px;top:870px;transform:translate(0,-11.85px) scaleX(1.100);">18:00</div>
<div class="t" id="xl2_21" style="font-size:14px;left:604.80px;top:870px;transform:translate(0,-11.85px) scaleX(1.100);">21:00</div>
<div class="t" id="xl2_24" style="font-size:14px;left:684.80px;top:870px;transform:translate(0,-11.85px) scaleX(1.100);">00:00</div>
<div class="t" id="xta2" style="font-size:14px;left:347.00px;top:886px;transform:translate(0,-11.85px);">Time</div>
<div class="t" id="xtb2" style="font-size:14px;left:384.00px;top:886px;transform:translate(0,-11.85px) scaleX(0.978);">(UTC)</div>
<div class="t" id="mean2" style="font-size:14px;left:738.20px;top:656px;transform:translate(0,-11.85px) scaleX(0.981);">Mean:</div>
<div class="t" id="meanv2" style="font-size:14px;letter-spacing:0.25px;left:784.00px;top:656px;transform:translate(0,-11.85px) scaleX(1.100);">−55.5</div>
<div class="t" id="std2" style="font-size:14px;left:738.20px;top:676px;transform:translate(0,-11.85px) scaleX(0.921);">STD:</div>
<div class="t" id="stdv2" style="font-size:14px;left:787.00px;top:676px;transform:translate(0,-11.85px) scaleX(1.100);">0.2</div>
<div class="t" id="yta2" style="font-size:14px;left:8.6px;top:779.00px;transform:rotate(-90deg) translate(0,-11.85px) scaleX(0.956);">Noise</div>
<div class="t" id="ytb2" style="font-size:14px;letter-spacing:0.67px;left:8.6px;top:736.00px;transform:rotate(-90deg) translate(0,-11.85px);">(dB)</div>
</div>
<div class="g" style="filter:url(#crisp16);">
<div class="t" id="ti0_0" style="font-size:16px;left:226.00px;top:29px;transform:translate(0,-13.54px) scaleX(0.938);">ACX</div>
<div class="t" id="ti0_1" style="font-size:16px;letter-spacing:1.20px;left:266.00px;top:29px;transform:translate(0,-13.54px);">kazrge</div>
<div class="t" id="ti0_2" style="font-size:16px;letter-spacing:0.75px;left:329.00px;top:29px;transform:translate(0,-13.54px);">Noise</div>
<div class="t" id="ti0_3" style="font-size:16px;letter-spacing:0.38px;left:381.00px;top:29px;transform:translate(0,-13.54px);">Level</div>
<div class="t" id="ti0_4" style="font-size:16px;letter-spacing:1.50px;left:430.00px;top:29px;transform:translate(0,-13.54px);">on</div>
<div class="t" id="ti0_5" style="font-size:16px;letter-spacing:0.71px;left:458.00px;top:29px;transform:translate(0,-13.54px) scaleX(1.100);">20150118</div>
<div class="t" id="ti1_0" style="font-size:16px;left:223.00px;top:329px;transform:translate(0,-13.54px) scaleX(0.953);">ACX</div>
<div class="t" id="ti1_1" style="font-size:16px;letter-spacing:1.42px;left:262.60px;top:329px;transform:translate(0,-13.54px);">kazrmd</div>
<div class="t" id="ti1_2" style="font-size:16px;letter-spacing:0.50px;left:332.00px;top:329px;transform:translate(0,-13.54px);">Noise</div>
<div class="t" id="ti1_3" style="font-size:16px;letter-spacing:0.75px;left:383.00px;top:329px;transform:translate(0,-13.54px);">Level</div>
<div class="t" id="ti1_4" style="font-size:16px;letter-spacing:1.50px;left:433.00px;top:329px;transform:translate(0,-13.54px);">on</div>
<div class="t" id="ti1_5" style="font-size:16px;letter-spacing:0.79px;left:461.00px;top:329px;transform:translate(0,-13.54px) scaleX(1.100);">20150118</div>
<div class="t" id="ti2_0" style="font-size:16px;left:226.00px;top:629px;transform:translate(0,-13.54px) scaleX(0.953);">ACX</div>
<div class="t" id="ti2_1" style="font-size:16px;letter-spacing:1.50px;left:265.60px;top:629px;transform:translate(0,-13.54px);">mwacr</div>
<div class="t" id="ti2_2" style="font-size:16px;letter-spacing:0.88px;left:328.00px;top:629px;transform:translate(0,-13.54px);">Noise</div>
<div class="t" id="ti2_3" style="font-size:16px;letter-spacing:0.50px;left:380.00px;top:629px;transform:translate(0,-13.54px);">Level</div>
<div class="t" id="ti2_4" style="font-size:16px;letter-spacing:2.40px;left:428.60px;top:629px;transform:translate(0,-13.54px);">on</div>
<div class="t" id="ti2_5" style="font-size:16px;letter-spacing:0.74px;left:457.00px;top:629px;transform:translate(0,-13.54px) scaleX(1.100);">20150118</div>
</div>
<div class="g" style="filter:url(#crisp11);">
<div class="t" id="ft0" style="font-size:11px;color:#aa0000;left:271.40px;top:897px;transform:translate(0,-9.31px) scaleX(0.974);">Image</div>
<div class="t" id="ft1" style="font-size:11px;color:#aa0000;left:306.60px;top:897px;transform:translate(0,-9.31px) scaleX(0.985);">provided</div>
<div class="t" id="ft2" style="font-size:11px;color:#aa0000;-webkit-text-stroke:0.10px #aa0000;left:353.20px;top:897px;transform:translate(0,-9.31px) scaleX(0.786);">by</div>
<div class="t" id="ft3" style="font-size:11px;color:#aa0000;-webkit-text-stroke:0.02px #aa0000;left:370.00px;top:897px;transform:translate(0,-9.31px) scaleX(0.953);">the</div>
<div class="t" id="ft4" style="font-size:11px;color:#aa0000;-webkit-text-stroke:0.09px #aa0000;left:390.40px;top:897px;transform:translate(0,-9.31px) scaleX(0.800);">ARM</div>
<div class="t" id="ft5" style="font-size:11px;color:#aa0000;-webkit-text-stroke:0.02px #aa0000;left:415.00px;top:897px;transform:translate(0,-9.31px) scaleX(0.955);">Data</div>
<div class="t" id="ft6" style="font-size:11px;color:#aa0000;-webkit-text-stroke:0.03px #aa0000;left:443.20px;top:897px;transform:translate(0,-9.31px) scaleX(0.940);">Quality</div>
<div class="t" id="ft7" style="font-size:11px;color:#aa0000;-webkit-text-stroke:0.01px #aa0000;left:480.80px;top:897px;transform:translate(0,-9.31px) scaleX(0.968);">Office:</div>
<div class="t" id="ft8" style="font-size:11px;color:#aa0000;left:518.00px;top:897px;transform:translate(0,-9.31px) scaleX(0.997);">20150311</div>
</div>
</body></html>
